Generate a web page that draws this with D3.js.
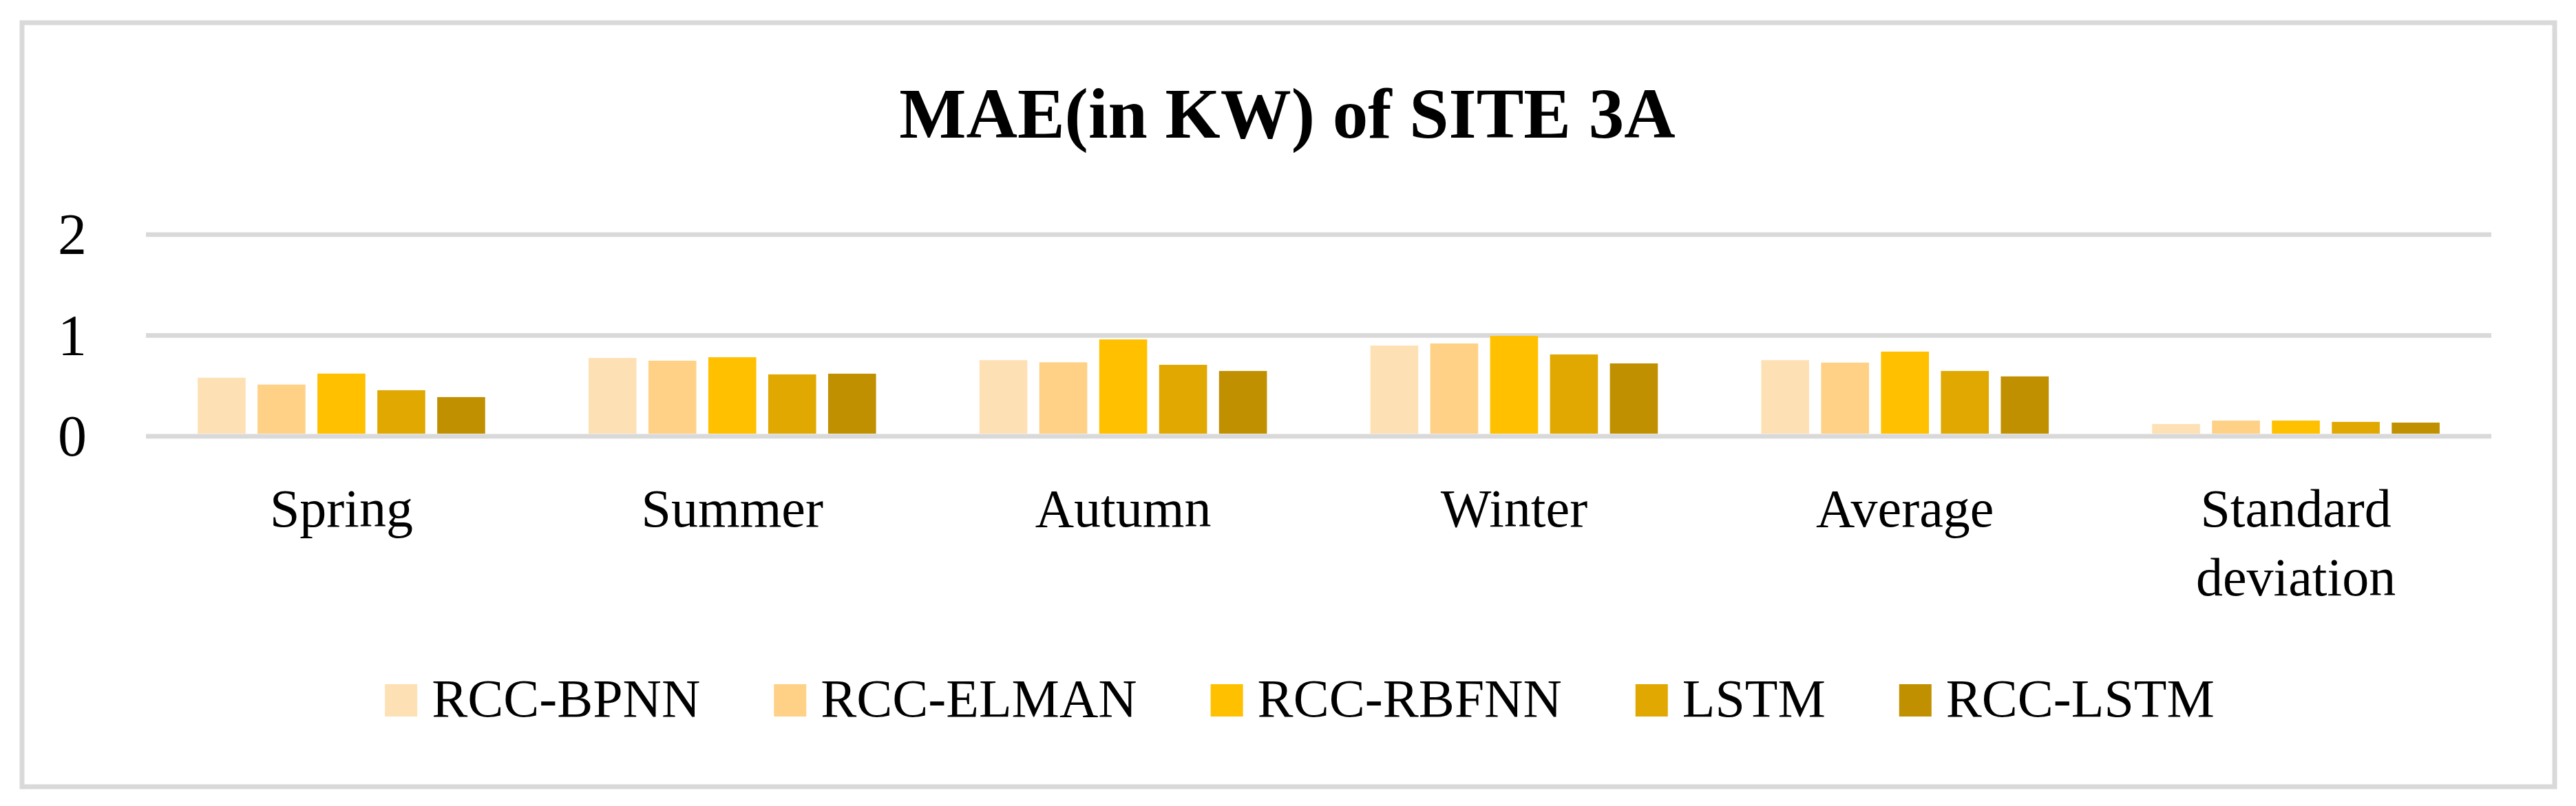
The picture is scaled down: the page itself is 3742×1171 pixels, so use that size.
<!DOCTYPE html>
<html>
<head>
<meta charset="utf-8">
<script src="https://cdn.jsdelivr.net/npm/d3@7"></script>
<style>
  body { margin: 0; background: #fff; }
  svg { display: block; }
  text { font-family: "Liberation Serif", "Times New Roman", serif; fill: #000; }
</style>
</head>
<body>
<svg id="chart" width="3742" height="1171"></svg>
<script>
// data
const categories = ["Spring", "Summer", "Autumn", "Winter", "Average", "Standard deviation"];
const seriesNames = ["RCC-BPNN", "RCC-ELMAN", "RCC-RBFNN", "LSTM", "RCC-LSTM"];
const rccBpnn = [0.577, 0.773, 0.751, 0.896, 0.751, 0.118];
const rccElman = [0.509, 0.746, 0.730, 0.917, 0.727, 0.152];
const rccRbfnn = [0.618, 0.780, 0.957, 0.992, 0.836, 0.152];
const lstm = [0.453, 0.610, 0.705, 0.808, 0.644, 0.139];
const rccLstm = [0.385, 0.617, 0.644, 0.719, 0.590, 0.132];
const yTicks = [0, 1, 2];
const seriesColors = ["#fee0b5", "#fed187", "#ffc000", "#e0a800", "#c09000"];

const seriesValues = [rccBpnn, rccElman, rccRbfnn, lstm, rccLstm];

const svg = d3.select("#chart"),
  width = +svg.attr("width"),
  height = +svg.attr("height");

const margin = { left: 212, right: 3619, top: 340.3, bottom: 633.3 };

// chart frame
svg
  .append("rect")
  .attr("x", 32)
  .attr("y", 33)
  .attr("width", 3679)
  .attr("height", 1110)
  .attr("fill", "#fff")
  .attr("stroke", "#d9d9d9")
  .attr("stroke-width", 7);

// title
svg
  .append("text")
  .attr("x", 1870)
  .attr("y", 200)
  .attr("text-anchor", "middle")
  .style("font-size", "103px")
  .style("font-weight", "bold")
  .text("MAE(in KW) of SITE 3A");

const x0 = d3
  .scaleBand()
  .domain(categories)
  .range([margin.left, margin.right])
  .paddingInner(0.2645)
  .paddingOuter(0.13225);

const x1 = d3
  .scaleBand()
  .domain(seriesNames)
  .range([0, x0.bandwidth()])
  .paddingInner(0.2);

const y = d3.scaleLinear().domain([0, 2]).range([margin.bottom, margin.top]);

const color = d3.scaleOrdinal().domain(seriesNames).range(seriesColors);

// gridlines
const grid = svg
  .append("g")
  .attr("transform", `translate(${margin.left},0)`)
  .call(
    d3
      .axisLeft(y)
      .tickValues(yTicks)
      .tickSize(-(margin.right - margin.left))
      .tickFormat("")
  );
grid.select(".domain").remove();
grid
  .selectAll(".tick line")
  .attr("stroke", "#d9d9d9")
  .attr("stroke-width", 6.7);

// y tick labels
const yAxis = svg
  .append("g")
  .attr("transform", "translate(126,0)")
  .call(d3.axisLeft(y).tickValues(yTicks).tickSize(0).tickPadding(0).tickFormat(d3.format("d")));
yAxis.select(".domain").remove();
yAxis
  .selectAll(".tick text")
  .attr("x", 0)
  .attr("dy", "0.34em")
  .style("font-size", "84px")
  .style("font-family", "Liberation Serif, serif");

// bars
const rows = categories.map((c, i) => ({
  category: c,
  values: seriesNames.map((s, j) => ({ series: s, value: seriesValues[j][i] })),
}));

svg
  .append("g")
  .selectAll("g")
  .data(rows)
  .join("g")
  .attr("transform", (d) => `translate(${x0(d.category)},0)`)
  .selectAll("rect")
  .data((d) => d.values)
  .join("rect")
  .attr("x", (d) => x1(d.series))
  .attr("y", (d) => y(d.value))
  .attr("width", x1.bandwidth())
  .attr("height", (d) => y(0) - y(d.value) - 3.3)
  .attr("fill", (d) => color(d.series));

// category labels
const xAxis = svg
  .append("g")
  .attr("transform", `translate(0,${margin.bottom})`)
  .call(d3.axisBottom(x0).tickSize(0).tickPadding(0));
xAxis.select(".domain").remove();
xAxis.selectAll(".tick text").each(function (d) {
  const t = d3.select(this);
  t.text(null)
    .attr("y", 131.7)
    .attr("dy", null)
    .style("font-size", "78px")
    .style("font-family", "Liberation Serif, serif");
  const words = d.split(" ");
  const lines = words.length > 1 ? words : [d];
  lines.forEach((w, k) => {
    t.append("tspan")
      .attr("x", 0)
      .attr("dy", k === 0 ? 0 : 100)
      .text(w);
  });
});

// legend
const legend = svg.append("g");
const items = legend
  .selectAll("g")
  .data(seriesNames)
  .join("g");
items
  .append("rect")
  .attr("width", 47)
  .attr("height", 47)
  .attr("y", 994)
  .attr("fill", (d) => color(d));
items
  .append("text")
  .attr("x", 68)
  .attr("y", 1040.7)
  .style("font-size", "78px")
  .text((d) => d);

let offset = 0;
items.each(function () {
  const g = d3.select(this);
  g.attr("transform", `translate(${offset},0)`);
  const w = g.select("text").node().getComputedTextLength();
  offset += 68 + w + 107;
});
const totalWidth = offset - 107;
legend.attr("transform", `translate(${1888 - totalWidth / 2},0)`);
</script>
</body>
</html>
